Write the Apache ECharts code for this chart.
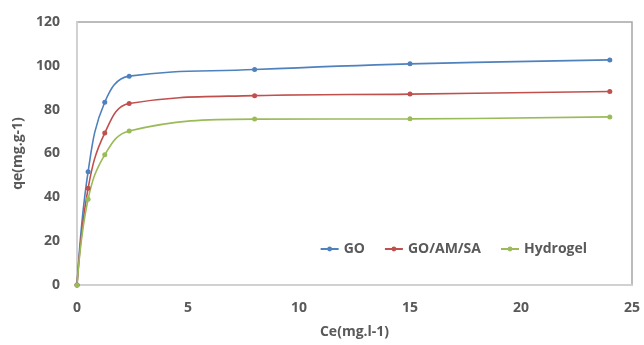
<!DOCTYPE html>
<html>
<head>
<meta charset="utf-8">
<script src="https://cdn.jsdelivr.net/npm/echarts@6/dist/echarts.min.js"></script>
<style>
  html, body { margin: 0; padding: 0; background: #fff; }
  #chart { width: 644px; height: 345px; }
</style>
</head>
<body>
<div id="chart"></div>
<script>
// concentration (x) and adsorption capacity (y)
const ce = [0, 0.5, 1.25, 2.35, 8, 15, 24]
const goVals = [0, 51.7, 83.4, 95.3, 98.3, 100.9, 102.7]
const goAmSaVals = [0, 44.1, 69.3, 82.8, 86.4, 87.1, 88.3]
const hydrogelVals = [0, 39.1, 59.4, 70.3, 75.7, 75.8, 76.7]
const seriesNames = ['GO', 'GO/AM/SA', 'Hydrogel']
const colors = ['#4F81BD', '#C0504D', '#9BBB59']

const textStyle = {
  fontFamily: 'Open Sans',
  fontWeight: 'bold',
  color: '#595959',
  fontSize: 14
}

function pairs(ys) {
  return ce.map((x, i) => [x, ys[i]])
}

const chart = echarts.init(document.getElementById('chart'))
const option = {
  animation: false,
  color: colors,
  grid: {
    left: 77,
    right: 12,
    top: 22,
    bottom: 60,
    show: true,
    borderColor: '#a6a6a6',
    borderWidth: 1.5
  },
  legend: {
    data: seriesNames,
    right: 52,
    top: 237,
    itemWidth: 18,
    itemHeight: 6,
    itemGap: 19,
    textStyle: textStyle
  },
  xAxis: {
    type: 'value',
    min: 0,
    max: 25,
    interval: 5,
    name: 'Ce(mg.l-1)',
    nameLocation: 'middle',
    nameGap: 40,
    nameTextStyle: textStyle,
    axisLine: { lineStyle: { color: '#d9d9d9', width: 1.5 } },
    axisTick: { show: false },
    axisLabel: Object.assign({ margin: 16 }, textStyle),
    splitLine: { show: false }
  },
  yAxis: {
    type: 'value',
    min: 0,
    max: 120,
    interval: 20,
    name: 'qe(mg.g-1)',
    nameLocation: 'middle',
    nameGap: 51,
    nameTextStyle: textStyle,
    axisLine: { show: true, lineStyle: { color: '#d9d9d9', width: 1.5 } },
    axisTick: { show: false },
    axisLabel: Object.assign({ margin: 17 }, textStyle),
    splitLine: { show: false }
  },
  series: [goVals, goAmSaVals, hydrogelVals].map((vals, i) => ({
    name: seriesNames[i],
    type: 'line',
    smooth: 0.4,
    symbol: 'circle',
    symbolSize: 5,
    lineStyle: { width: 1.6 },
    data: pairs(vals)
  }))
}
chart.setOption(option)
</script>
</body>
</html>
